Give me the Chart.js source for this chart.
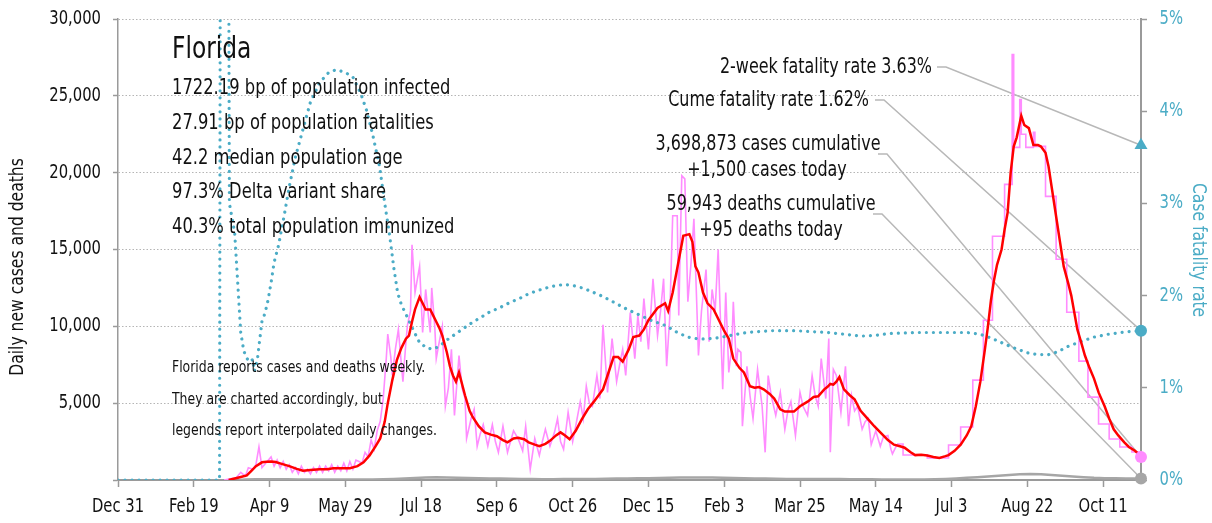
<!DOCTYPE html>
<html>
<head>
<meta charset="utf-8">
<script src="https://cdn.jsdelivr.net/npm/chart.js@4.4.0/dist/chart.umd.min.js"></script>
<style>
  body { margin: 0; background: #fff; }
  canvas { display: block; }
</style>
</head>
<body>
<canvas id="chart" width="1212" height="523"></canvas>
<script>
// x values are days since Dec 31 2019
const tickDays = [0, 50, 100, 150, 200, 250, 300, 350, 400, 450, 500, 550, 600, 650];
const tickLabels = ['Dec 31', 'Feb 19', 'Apr 9', 'May 29', 'Jul 18', 'Sep 6', 'Oct 26', 'Dec 15', 'Feb 3', 'Mar 25', 'May 14', 'Jul 3', 'Aug 22', 'Oct 11'];
const caseTicks = [5000, 10000, 15000, 20000, 25000, 30000];
const rateTicks = [0, 1, 2, 3, 4, 5];
const lastDay = 675;

// 7-day average of new cases (red)
const avgCases = [[73,0],[77,100],[81,200],[85,300],[88,600],[91,900],[95,1150],[98,1180],[101,1200],[104,1170],[108,1050],[113,900],[118,720],[122,600],[127,650],[133,700],[138,700],[142,760],[147,760],[153,760],[158,900],[162,1150],[166,1600],[170,2200],[173,2700],[176,3800],[178,5000],[181,6500],[184,7800],[187,8600],[190,9200],[192,9400],[194,10300],[196,11100],[199,11900],[201,11500],[203,11100],[206,11100],[208,10700],[210,10300],[212,9900],[214,9400],[217,8300],[219,7400],[221,6800],[223,6400],[225,7000],[229,5500],[232,4500],[234,4100],[238,3500],[242,3100],[246,2950],[250,2850],[254,2600],[257,2450],[261,2700],[264,2750],[268,2650],[271,2450],[275,2300],[278,2200],[282,2350],[285,2550],[289,2900],[292,3100],[295,2900],[298,2650],[302,3200],[306,3950],[310,4600],[314,5100],[317,5500],[320,5900],[323,6800],[327,8000],[330,8000],[333,7700],[337,8500],[340,9300],[344,9400],[347,9800],[350,10400],[356,11200],[361,11500],[363,11000],[366,12200],[370,14300],[373,15900],[377,16000],[379,15500],[381,13900],[383,13500],[386,12200],[389,11500],[393,11100],[397,10300],[400,9700],[403,9200],[406,7900],[410,7300],[413,7000],[417,6100],[420,6000],[423,6050],[426,5900],[430,5600],[433,5300],[437,4600],[440,4450],[446,4450],[450,4800],[455,5100],[459,5400],[462,5450],[466,5900],[468,6050],[470,6250],[472,6200],[474,6400],[476,6700],[479,5900],[483,5500],[486,5250],[490,4500],[495,3950],[499,3500],[503,3100],[508,2600],[512,2300],[516,2200],[519,2100],[523,1800],[526,1620],[530,1650],[534,1600],[538,1500],[542,1430],[546,1550],[548,1620],[552,1900],[556,2300],[560,2900],[563,3500],[566,4800],[569,6400],[572,8500],[574,10000],[576,11700],[578,13000],[580,14000],[583,15000],[585,16300],[587,17400],[589,20000],[591,21700],[593,22300],[596,23700],[598,23100],[601,22900],[604,21800],[607,21800],[609,21700],[612,21300],[614,20400],[616,19100],[618,17800],[620,16500],[622,15200],[624,13900],[627,12800],[629,12000],[631,10900],[633,9800],[636,8800],[638,8100],[641,7300],[644,6600],[647,5700],[651,4800],[654,4000],[657,3300],[660,2900],[664,2450],[667,2150],[671,1900],[675,1560]];

// daily new cases while reported daily (pink)
const dailyCases = [[70,0],[75,100],[78,150],[81,500],[84,250],[86,800],[89,700],[91,1000],[93,2150],[95,800],[98,1150],[101,1500],[103,900],[105,1300],[107,800],[109,1200],[111,700],[113,1000],[115,500],[117,800],[119,400],[121,900],[123,500],[125,700],[127,400],[129,800],[131,500],[133,900],[135,500],[137,900],[139,600],[141,1000],[143,500],[145,900],[147,600],[149,1100],[151,600],[153,1200],[155,700],[157,1300],[159,1200],[161,1100],[163,1800],[165,1500],[167,2600],[169,2000],[171,3200],[173,3800],[175,5300],[177,7900],[178,9500],[180,8000],[181,6800],[183,8500],[185,9800],[187,7500],[188,6400],[190,9000],[191,10100],[193,11000],[194,15300],[196,12200],[199,13900],[201,9600],[203,12400],[205,10500],[206,9600],[207,12500],[209,10000],[210,7900],[212,9000],[214,10000],[216,4800],[218,6000],[220,8500],[222,4200],[225,8100],[227,6000],[229,5300],[230,2700],[233,4000],[235,4600],[237,2200],[239,3000],[241,3600],[244,2200],[247,3600],[249,2500],[251,1800],[254,3500],[257,1800],[259,2500],[261,3200],[264,2700],[267,1900],[269,3500],[272,700],[275,2700],[278,1600],[280,2500],[282,3300],[285,2200],[288,3100],[290,4000],[292,2500],[294,2000],[297,4400],[300,2500],[302,3500],[305,5100],[307,4000],[309,6100],[311,5000],[313,4800],[316,6800],[318,5300],[320,10100],[323,5700],[326,9200],[329,6400],[331,7500],[333,8500],[335,6800],[338,10900],[341,7900],[343,10700],[345,9000],[347,11800],[350,8500],[353,13100],[356,9400],[358,11000],[360,13100],[362,7400],[364,10500],[366,17200],[369,17200],[370,10700],[372,19800],[374,19600],[376,11600],[378,14000],[380,17000],[383,8100],[385,11000],[388,13700],[390,9000],[392,12400],[394,11000],[396,15000],[399,5900],[401,12200],[403,7000],[405,8700],[406,11600],[408,7400],[409,8500],[411,8300],[412,3500],[415,7400],[417,5500],[419,4000],[422,7200],[425,4800],[427,1800],[429,6800],[431,5500],[434,4200],[437,5700],[440,3300],[442,4500],[444,5100],[447,2900],[450,5700],[452,4800],[455,4200],[458,6800],[460,5500],[462,4800],[464,7900],[467,5300],[469,9200],[470,1800],[472,7200],[474,6800],[477,4400],[480,7400],[482,3500],[484,5500],[486,4500],[488,4800],[491,3300],[493,3800],[495,4000],[497,2300],[500,3200],[503,2200],[505,2800],[508,2900],[510,2000],[511,1700],[514,2300]];

// weekly reported cases shown as steps (pink)
const weeklyCases = [[514,2340],[518,1625],[534,1430],[548,2275],[556,3445],[564,6500],[571,10400],[577,15860],[585,19240],[590,27690],[591,21645],[595,24765],[596,22500],[599,21645],[604,22620],[605,21710],[612,18460],[619,14365],[626,10920],[634,7735],[640,5395],[647,3640],[654,2665],[661,2145],[669,1820],[675,1560]];

// daily deaths (gray)
const dailyDeaths = [[80,0],[84,30],[91,50],[98,50],[105,50],[112,45],[119,40],[126,40],[133,40],[140,35],[147,35],[154,30],[161,35],[168,40],[175,50],[182,70],[189,100],[196,130],[203,160],[210,180],[217,170],[224,150],[231,130],[238,120],[245,100],[252,90],[259,80],[266,70],[273,60],[280,55],[287,55],[294,60],[301,60],[308,65],[315,70],[322,80],[329,90],[336,95],[343,110],[350,120],[357,130],[364,150],[371,160],[378,170],[385,165],[392,160],[399,150],[406,130],[413,110],[420,100],[427,90],[434,80],[441,70],[448,65],[455,65],[462,65],[469,65],[476,60],[483,55],[490,50],[497,45],[504,40],[511,40],[518,35],[525,35],[532,40],[539,50],[546,70],[553,100],[560,140],[567,180],[574,230],[581,280],[588,330],[595,370],[602,390],[609,370],[616,330],[623,280],[630,230],[637,180],[644,140],[651,120],[658,110],[665,100],[672,95],[675,95]];

// case fatality rate, percent (teal, right axis)
const fatalityRate = [[0,0],[67,0],[68,12],[72,12],[73.5,3.0],[77,2.68],[79,2.14],[81,1.6],[83,1.4],[85,1.32],[87,1.28],[89,1.31],[90,1.18],[92,1.31],[93.5,1.52],[95,1.72],[97,1.81],[99,1.95],[101,2.14],[103,2.36],[106,2.55],[110,2.9],[113,3.18],[117,3.5],[122,3.8],[127,4.1],[133,4.31],[139,4.42],[144,4.45],[150,4.42],[155,4.37],[160,4.2],[164,4.01],[168,3.75],[172.6,3.4],[176,3.0],[179,2.68],[182,2.3],[184.5,2.03],[187,1.9],[190.5,1.78],[195,1.62],[199,1.49],[204,1.43],[208,1.42],[212,1.45],[218,1.53],[225,1.61],[232,1.69],[239,1.76],[245,1.82],[252,1.87],[258,1.92],[265,1.97],[271,2.02],[278,2.06],[286,2.1],[294,2.12],[300,2.11],[307,2.08],[313,2.04],[320,1.99],[328,1.92],[336,1.85],[344,1.79],[352,1.73],[362,1.67],[369,1.6],[376,1.55],[383,1.53],[389,1.53],[395,1.54],[402,1.56],[408,1.58],[415,1.6],[424,1.61],[433,1.62],[446,1.62],[457,1.61],[468,1.6],[480,1.58],[490,1.56],[500,1.57],[510,1.59],[527,1.6],[545,1.6],[560,1.6],[569,1.58],[576,1.54],[583,1.49],[590,1.44],[600,1.38],[607,1.36],[614,1.36],[620,1.39],[627,1.45],[635,1.5],[644,1.55],[653,1.58],[662,1.6],[668,1.61],[675,1.62]];

// end-of-series values for the markers
const casesToday = 1500;
const deathsToday = 95;
const cumeRate = 1.62;
const twoWeekRate = 3.63;

const statLines = ['1722.19 bp of population infected', '27.91 bp of population fatalities', '42.2 median population age', '97.3% Delta variant share', '40.3% total population immunized'];
const noteLines = ['Florida reports cases and deaths weekly.', 'They are charted accordingly, but', 'legends report interpolated daily changes.'];

const FONT = "'Liberation Sans Narrow', 'DejaVu Sans Condensed', 'Roboto', sans-serif";
const SQUEEZE = 0.865; // the reference face is narrower than anything installed
const TEAL = '#4bacc6';
const PINK = '#ff8cff';
const GRAY = '#a6a6a6';
const AXIS = '#9a9a9a';

function pts(arr) {
  return arr.map(p => ({x: p[0], y: p[1]}));
}

// draws condensed text centred vertically on y
function txt(ctx, s, x, y, align, size, color, rot) {
  ctx.save();
  ctx.font = size + 'px ' + FONT;
  ctx.fillStyle = color;
  ctx.textAlign = align;
  ctx.textBaseline = 'middle';
  ctx.translate(x, y);
  if (rot) ctx.rotate(rot);
  ctx.scale(SQUEEZE, 1);
  ctx.fillText(s, 0, 0);
  ctx.restore();
}

const overlay = {
  id: 'overlay',
  beforeDatasetsDraw(chart) {
    // leader lines from the labels to the end markers
    const ctx = chart.ctx;
    const ex = chart.scales.x.getPixelForValue(lastDay);
    const yL = chart.scales.y, yR = chart.scales.y2;
    const leaders = [
      [937, 67, yR.getPixelForValue(twoWeekRate)],
      [875, 100, yR.getPixelForValue(cumeRate)],
      [878, 154, yL.getPixelForValue(casesToday)],
      [873, 214, yL.getPixelForValue(deathsToday)]
    ];
    ctx.save();
    ctx.strokeStyle = '#b8b8b8';
    ctx.lineWidth = 1.5;
    leaders.forEach(l => {
      ctx.beginPath();
      ctx.moveTo(l[0], l[1]);
      ctx.lineTo(l[0] + 9, l[1]);
      ctx.lineTo(ex, l[2]);
      ctx.stroke();
    });
    ctx.restore();
  },
  afterDraw(chart) {
    const ctx = chart.ctx;
    const xs = chart.scales.x, ys = chart.scales.y, ys2 = chart.scales.y2;

    // tick labels
    tickDays.forEach((d, i) => txt(ctx, tickLabels[i], xs.getPixelForValue(d), 507, 'center', 19, '#111'));
    caseTicks.forEach(v => txt(ctx, v.toLocaleString('en-US'), 101, ys.getPixelForValue(v), 'right', 19, '#111'));
    rateTicks.forEach(v => txt(ctx, v + '%', 1183, ys2.getPixelForValue(v), 'right', 19, TEAL));

    // axis titles
    txt(ctx, 'Daily new cases and deaths', 18, 267, 'center', 20, '#111', -Math.PI / 2);
    txt(ctx, 'Case fatality rate', 1198, 250, 'center', 20, TEAL, Math.PI / 2);

    // state summary
    txt(ctx, 'Florida', 172, 50, 'left', 30, '#111');
    statLines.forEach((t, i) => txt(ctx, t, 172, 89 + i * 34.6, 'left', 21, '#111'));
    noteLines.forEach((t, i) => txt(ctx, t, 172, 368 + i * 31.5, 'left', 16, '#111'));

    // marker labels
    txt(ctx, '2-week fatality rate ' + twoWeekRate.toFixed(2) + '%', 932, 68, 'right', 20.5, '#111');
    txt(ctx, 'Cume fatality rate ' + cumeRate.toFixed(2) + '%', 869, 101, 'right', 20.5, '#111');
    txt(ctx, '3,698,873 cases cumulative', 768, 145, 'center', 20.5, '#111');
    txt(ctx, '+' + casesToday.toLocaleString('en-US') + ' cases today', 767, 171, 'center', 20.5, '#111');
    txt(ctx, '59,943 deaths cumulative', 771, 205, 'center', 20.5, '#111');
    txt(ctx, '+' + deathsToday + ' deaths today', 771, 231, 'center', 20.5, '#111');
  }
};

const lineBase = {pointRadius: 0, tension: 0, fill: false};

new Chart(document.getElementById('chart').getContext('2d'), {
  type: 'line',
  data: {
    datasets: [
      {data: [{x: lastDay, y: twoWeekRate}], yAxisID: 'y2', showLine: false, pointStyle: 'triangle', pointRadius: 7.5, pointBackgroundColor: TEAL, pointBorderWidth: 0, clip: false},
      {data: [{x: lastDay, y: cumeRate}], yAxisID: 'y2', showLine: false, pointRadius: 6, pointBackgroundColor: TEAL, pointBorderWidth: 0, clip: false},
      {data: [{x: lastDay, y: casesToday}], yAxisID: 'y', showLine: false, pointRadius: 6, pointBackgroundColor: PINK, pointBorderWidth: 0, clip: false},
      {data: [{x: lastDay, y: deathsToday}], yAxisID: 'y', showLine: false, pointRadius: 6, pointBackgroundColor: GRAY, pointBorderWidth: 0, clip: false},
      Object.assign({data: pts(avgCases), yAxisID: 'y', borderColor: '#ff0000', borderWidth: 2.5}, lineBase),
      Object.assign({data: pts(fatalityRate), yAxisID: 'y2', borderColor: TEAL, borderWidth: 3.2, borderDash: [0.01, 7], borderCapStyle: 'round'}, lineBase),
      Object.assign({data: pts(dailyCases), yAxisID: 'y', borderColor: PINK, borderWidth: 1.6}, lineBase),
      Object.assign({data: pts(weeklyCases), yAxisID: 'y', borderColor: PINK, borderWidth: 1.6, stepped: 'before'}, lineBase),
      Object.assign({data: pts(dailyDeaths), yAxisID: 'y', borderColor: GRAY, borderWidth: 2.5}, lineBase)
    ]
  },
  options: {
    responsive: false,
    animation: false,
    devicePixelRatio: 1,
    layout: {padding: {top: 19, left: 0, right: 0, bottom: 0}},
    plugins: {legend: {display: false}, tooltip: {enabled: false}},
    scales: {
      x: {
        type: 'linear',
        min: 0,
        max: lastDay,
        afterFit: s => { s.height = 43; },
        afterBuildTicks: s => { s.ticks = tickDays.map(v => ({value: v})); },
        grid: {drawOnChartArea: false, tickLength: 7, tickColor: AXIS, tickWidth: 1.5},
        border: {color: AXIS, width: 2},
        ticks: {display: false}
      },
      y: {
        position: 'left',
        min: 0,
        max: 30000,
        afterFit: s => { s.width = 118; },
        grid: {color: '#b5b5b5', lineWidth: 1, tickLength: 5, tickColor: AXIS, tickBorderDash: [], tickWidth: 1.5},
        border: {color: AXIS, width: 1.5, dash: [1.5, 2]},
        ticks: {stepSize: 5000, display: false}
      },
      y2: {
        position: 'right',
        min: 0,
        max: 5,
        afterFit: s => { s.width = 71; },
        grid: {drawOnChartArea: false, tickLength: 6, tickColor: AXIS, tickWidth: 1.5},
        border: {color: AXIS, width: 2},
        ticks: {stepSize: 1, display: false}
      }
    }
  },
  plugins: [overlay]
});
</script>
</body>
</html>
